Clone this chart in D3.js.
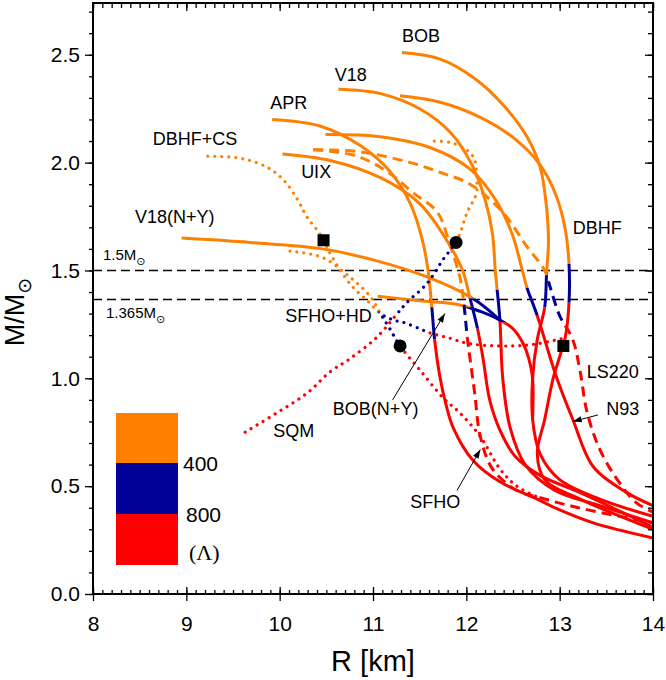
<!DOCTYPE html>
<html><head><meta charset="utf-8">
<script src="https://cdn.jsdelivr.net/npm/d3@7"></script>
<style>body{margin:0;background:#fff}svg{display:block}text{font-family:"Liberation Sans",Arial,sans-serif;fill:#000}</style>
</head><body><svg id="c" width="666" height="680"></svg>
<script>
// ---------- data (R in km, M in solar masses) ----------
const xTicks=[8,9,10,11,12,13,14];
const yTicks=[0,0.5,1.0,1.5,2.0,2.5];
const refMasses=[1.5,1.365];
const refLabels=['1.5M','1.365M'];
const lambdaLabels=['400','800'];

const APR=[[9.92,2.20],[10.43,2.17],[10.86,2.08],[11.18,1.96],[11.40,1.81],[11.53,1.64],[11.59,1.50],[11.63,1.33],[11.66,1.18],[11.72,1.00],[11.77,0.90],[11.86,0.77],[12.07,0.62],[12.36,0.52],[12.76,0.44],[13.00,0.39],[13.36,0.33],[14.0,0.26]];
const UIX=[[10.03,2.04],[10.54,2.01],[11.08,1.93],[11.50,1.81],[11.79,1.64],[11.96,1.50],[12.04,1.37],[12.12,1.23],[12.18,1.09],[12.25,0.90],[12.36,0.76],[12.52,0.64],[12.79,0.55],[13.22,0.47],[14.0,0.31]];
const V18=[[10.63,2.34],[11.08,2.32],[11.50,2.25],[11.83,2.14],[12.06,1.99],[12.20,1.83],[12.28,1.67],[12.31,1.50],[12.33,1.41],[12.36,1.27],[12.39,1.00],[12.47,0.77],[12.63,0.60],[12.95,0.48],[13.43,0.41],[14.0,0.33]];
const N93=[[10.49,2.13],[11.08,2.12],[11.61,2.07],[12.04,1.97],[12.31,1.83],[12.49,1.67],[12.60,1.50],[12.65,1.42],[12.76,1.29],[12.97,1.00],[13.14,0.81],[13.36,0.59],[13.72,0.47],[14.0,0.41]];
const BOB=[[11.31,2.51],[11.72,2.48],[12.09,2.39],[12.41,2.26],[12.65,2.12],[12.79,1.98],[12.85,1.83],[12.88,1.64],[12.86,1.49],[12.84,1.33],[12.76,1.18],[12.71,1.00],[12.71,0.81],[12.79,0.65],[13.00,0.53],[13.43,0.44],[14.0,0.36]];
const DBHF=[[11.29,2.31],[11.72,2.28],[12.15,2.21],[12.52,2.11],[12.79,1.99],[12.96,1.85],[13.06,1.69],[13.10,1.53],[13.10,1.35],[13.06,1.19],[13.00,1.10],[12.93,1.00],[12.84,0.81],[12.76,0.65],[12.84,0.53],[13.22,0.44],[14.0,0.30]];
const V18NY=[[8.95,1.65],[9.68,1.63],[10.46,1.60],[11.08,1.54],[11.58,1.47],[12.07,1.37],[12.36,1.27]];
const BOBNY=[[11.05,1.38],[11.50,1.36],[11.93,1.34],[12.15,1.31],[12.36,1.27],[12.50,1.23],[12.61,1.16],[12.67,1.09],[12.71,1.00],[12.71,0.81]];
const SFHO=[[10.36,2.06],[10.83,2.03],[11.18,1.95],[11.43,1.86],[11.69,1.77],[11.83,1.61],[11.93,1.47],[11.97,1.36],[12.01,1.19],[12.04,1.09],[12.09,0.93],[12.15,0.73],[12.28,0.58],[12.54,0.48],[12.76,0.45],[13.2,0.40],[14.0,0.33]];
const LS220=[[10.36,2.06],[10.86,2.05],[11.40,2.00],[11.75,1.95],[12.04,1.90],[12.39,1.77],[12.65,1.61],[12.84,1.50],[12.90,1.42],[13.00,1.29],[13.14,1.18],[13.22,1.03],[13.29,0.85],[13.43,0.67],[13.65,0.51],[13.83,0.42],[14.0,0.38]];
const SQM=[[9.63,0.75],[9.97,0.84],[10.29,0.93],[10.54,1.03],[10.75,1.09],[11.04,1.19],[11.26,1.30],[11.36,1.35],[11.58,1.44],[11.75,1.55],[11.90,1.64],[12.01,1.77],[12.11,1.86],[12.11,1.93],[12.07,2.03],[11.86,2.09],[11.61,2.10]];
const DBHFCS=[[9.23,2.03],[9.58,2.02],[9.86,1.98],[10.04,1.92],[10.19,1.83],[10.29,1.75],[10.43,1.67],[10.54,1.58],[10.65,1.50],[10.79,1.42],[10.94,1.36],[11.08,1.30],[11.22,1.27],[11.32,1.26],[11.50,1.23],[11.61,1.21],[11.79,1.19],[12.04,1.16],[12.47,1.15],[12.76,1.16],[13.08,1.19]];
const SFHOHD=[[10.11,1.59],[10.46,1.56],[10.75,1.47],[10.97,1.38],[11.08,1.30],[11.18,1.23],[11.29,1.15],[11.50,1.04],[11.75,0.91],[11.93,0.84],[12.15,0.73],[12.36,0.58],[12.54,0.50],[12.76,0.45]];

// mass where Lambda=400 and Lambda=800 on each curve
const curveList=[
 {pts:APR,style:'solid',m400:1.33,m800:1.18},
 {pts:UIX,style:'solid',m400:1.37,m800:1.23},
 {pts:V18,style:'solid',m400:1.41,m800:1.27},
 {pts:N93,style:'solid',m400:1.42,m800:1.29},
 {pts:BOB,style:'solid',m400:1.49,m800:1.33},
 {pts:DBHF,style:'solid',m400:1.53,m800:1.35},
 {pts:V18NY,style:'solid',m400:1.37,m800:1.26},
 {pts:BOBNY,style:'solid',m400:1.33,m800:1.26},
 {pts:SFHO,style:'dashed',m400:1.36,m800:1.19},
 {pts:LS220,style:'dashed',m400:1.45,m800:1.26},
 {pts:SQM,style:'dotted',m400:1.62,m800:1.30},
 {pts:DBHFCS,style:'dotted',m400:1.30,m800:1.215},
 {pts:SFHOHD,style:'dotted',m400:1.31,m800:1.15}
];
const squares=[[10.47,1.64],[13.04,1.15]];
const circles=[[11.89,1.63],[11.29,1.15]];
const curveLabels=[
 {t:'BOB',R:11.31,M:2.56},{t:'V18',R:10.59,M:2.38},{t:'APR',R:9.90,M:2.25},
 {t:'DBHF+CS',R:8.64,M:2.08},{t:'UIX',R:10.23,M:1.93},{t:'V18(N+Y)',R:8.45,M:1.72},
 {t:'SFHO+HD',R:10.06,M:1.26},{t:'DBHF',R:13.14,M:1.67},{t:'LS220',R:13.29,M:1.0},
 {t:'N93',R:13.50,M:0.83},{t:'SFHO',R:11.40,M:0.40},{t:'BOB(N+Y)',R:10.57,M:0.83},
 {t:'SQM',R:9.93,M:0.73}
];
const arrows=[
 {from:[11.21,0.90],to:[11.77,1.30]},
 {from:[11.90,0.48],to:[12.15,0.67]},
 {from:[13.41,0.83],to:[13.14,0.80]}
];

// ---------- drawing ----------
const svg=d3.select('#c');
const x=d3.scaleLinear().domain([8,14]).range([93,653]);
const y=d3.scaleLinear().domain([0,2.74]).range([594,3]);
const col={o:'#FF8000',b:'#000099',r:'#FF0000'};
const defs=svg.append('defs');
defs.append('clipPath').attr('id','plot').append('rect').attr('x',93).attr('y',3).attr('width',560).attr('height',591);
defs.append('marker').attr('id','ah').attr('viewBox','0 0 10 10').attr('refX',10).attr('refY',5)
  .attr('markerWidth',9).attr('markerHeight',9).attr('markerUnits','userSpaceOnUse').attr('orient','auto')
  .append('path').attr('d','M0,1.5L10,5L0,8.5Z').attr('fill','#000');

const plot=svg.append('g').attr('clip-path','url(#plot)');
const line=d3.line().x(d=>x(d[0])).y(d=>y(d[1])).curve(d3.curveCatmullRom.alpha(0.5));
const dash={solid:null,dashed:'10 6',dotted:'0.01 7'};

// reference mass lines
plot.selectAll('line.ref').data(refMasses).join('line').attr('class','ref')
 .attr('x1',93).attr('x2',653).attr('y1',d=>y(d)).attr('y2',d=>y(d))
 .attr('stroke','#000').attr('stroke-width',1.5).attr('stroke-dasharray','9 5');

curveList.forEach((c,i)=>{
  const bands=[
    {id:`cl${i}o`,y0:0,y1:y(c.m400),color:col.o},
    {id:`cl${i}b`,y0:y(c.m400),y1:y(c.m800),color:col.b},
    {id:`cl${i}r`,y0:y(c.m800),y1:700,color:col.r}
  ];
  bands.forEach(b=>{
    defs.append('clipPath').attr('id',b.id).append('rect').attr('x',0).attr('width',700).attr('y',b.y0).attr('height',b.y1-b.y0);
    plot.append('g').attr('clip-path',`url(#${b.id})`).append('path')
      .attr('d',line(c.pts)).attr('fill','none').attr('stroke',b.color)
      .attr('stroke-width',c.style==='dotted'?3.2:3)
      .attr('stroke-linecap',c.style==='dotted'?'round':'butt')
      .attr('stroke-dasharray',dash[c.style]);
  });
});

plot.selectAll('rect.sq').data(squares).join('rect').attr('class','sq')
 .attr('x',d=>x(d[0])-6).attr('y',d=>y(d[1])-6).attr('width',12).attr('height',12).attr('fill','#000');
plot.selectAll('circle.ci').data(circles).join('circle').attr('class','ci')
 .attr('cx',d=>x(d[0])).attr('cy',d=>y(d[1])).attr('r',6.5).attr('fill','#000');

// arrows
svg.selectAll('line.arr').data(arrows).join('line').attr('class','arr')
 .attr('x1',d=>x(d.from[0])).attr('y1',d=>y(d.from[1])).attr('x2',d=>x(d.to[0])).attr('y2',d=>y(d.to[1]))
 .attr('stroke','#000').attr('stroke-width',1).attr('marker-end','url(#ah)');

// curve labels
svg.selectAll('text.cl').data(curveLabels).join('text').attr('class','cl')
 .attr('x',d=>x(d.R)).attr('y',d=>y(d.M)).attr('font-size',18).text(d=>d.t);

// reference labels
const rl=svg.selectAll('text.rl').data(refLabels).join('text').attr('class','rl')
 .attr('x',(d,i)=>i===0?103:106).attr('y',(d,i)=>i===0?y(refMasses[0])-10:y(refMasses[1])+18).attr('font-size',15);
rl.append('tspan').text(d=>d);
rl.append('tspan').attr('font-size',11).attr('dy',5).attr('font-family','DejaVu Sans').text('⊙');

// legend
const leg=[{c:col.o,y0:413,y1:463},{c:col.b,y0:463,y1:514},{c:col.r,y0:514,y1:565}];
svg.selectAll('rect.leg').data(leg).join('rect').attr('class','leg')
 .attr('x',116).attr('width',62).attr('y',d=>d.y0).attr('height',d=>d.y1-d.y0).attr('fill',d=>d.c);
svg.selectAll('text.lg').data(lambdaLabels).join('text').attr('class','lg')
 .attr('x',(d,i)=>183+i*3).attr('y',(d,i)=>[471,522][i]).attr('font-size',21).text(d=>d);
svg.append('text').attr('x',189).attr('y',560).attr('font-size',22).style('font-family','"Liberation Serif","Times New Roman",serif').text('(Λ)');

// axes
const ax=svg.append('g');
const minorX=d3.range(80,141).map(d=>d/10);
const minorY=d3.range(0,28).map(d=>d/10);
function noDomain(g){g.select('.domain').remove();g.selectAll('line').attr('stroke','#000').attr('stroke-width',1.3);}
ax.append('g').attr('transform','translate(0,594)').call(d3.axisBottom(x).tickValues(xTicks).tickSize(7).tickPadding(15).tickFormat(d3.format('d'))).call(noDomain)
  .selectAll('text').attr('font-size',21).attr('font-family','"Liberation Sans",Arial,sans-serif');
ax.append('g').attr('transform','translate(0,594)').call(d3.axisBottom(x).tickValues(xTicks).tickSize(-7).tickFormat('')).call(noDomain);
ax.append('g').attr('transform','translate(0,594)').call(d3.axisBottom(x).tickValues(minorX).tickSize(-4).tickFormat('')).call(noDomain);
ax.append('g').attr('transform','translate(0,3)').call(d3.axisTop(x).tickValues(xTicks).tickSize(-8).tickFormat('')).call(noDomain);
ax.append('g').attr('transform','translate(0,3)').call(d3.axisTop(x).tickValues(minorX).tickSize(-5).tickFormat('')).call(noDomain);
ax.append('g').attr('transform','translate(93,0)').call(d3.axisLeft(y).tickValues(yTicks).tickSize(8).tickPadding(5).tickFormat(d3.format('.1f'))).call(noDomain)
  .selectAll('text').attr('font-size',21).attr('font-family','"Liberation Sans",Arial,sans-serif');
ax.append('g').attr('transform','translate(93,0)').call(d3.axisLeft(y).tickValues(minorY).tickSize(4).tickFormat('')).call(noDomain);
ax.append('g').attr('transform','translate(653,0)').call(d3.axisRight(y).tickValues(yTicks).tickSize(-8).tickFormat('')).call(noDomain);
ax.append('g').attr('transform','translate(653,0)').call(d3.axisRight(y).tickValues(minorY).tickSize(-5).tickFormat('')).call(noDomain);
svg.append('rect').attr('x',93).attr('y',3).attr('width',560).attr('height',591).attr('fill','none').attr('stroke','#000').attr('stroke-width',2);

// axis titles
svg.append('text').attr('x',373).attr('y',671).attr('text-anchor','middle').attr('font-size',29).text('R [km]');
const yl=svg.append('text').attr('transform','translate(24,312) rotate(-90)').attr('text-anchor','middle').attr('font-size',27);
yl.append('tspan').text('M/M');
yl.append('tspan').attr('font-size',19).attr('dy',7).attr('font-family','DejaVu Sans').text('⊙');
</script></body></html>
